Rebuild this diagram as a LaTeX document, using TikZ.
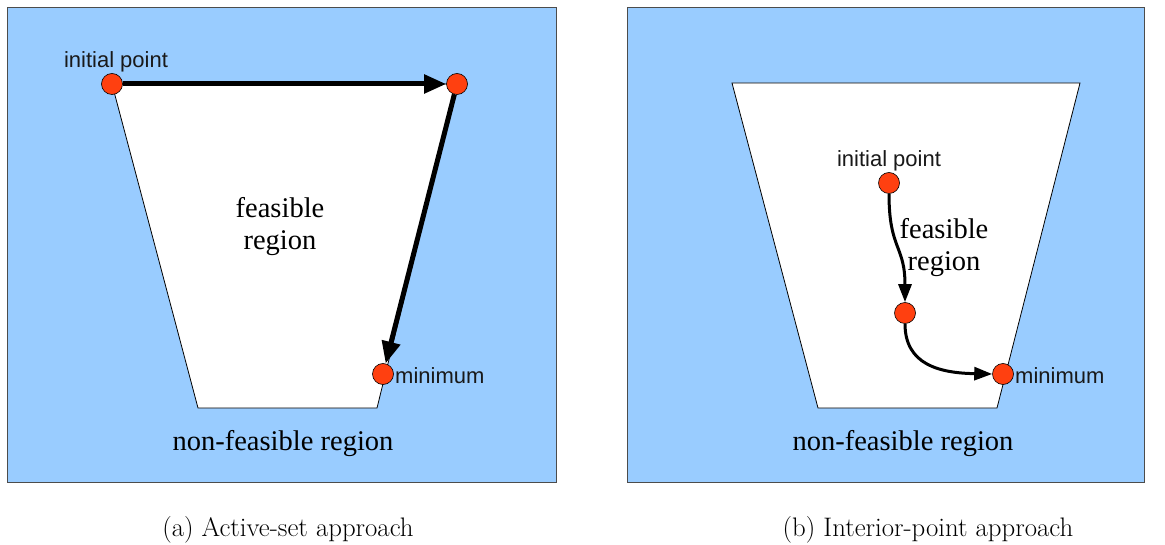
\documentclass[tikz,border=0pt]{standalone}
\usepackage{fontspec}
\setmainfont{Liberation Serif}
\newfontfamily\lsans{Liberation Sans}
\newfontfamily\lmr{Latin Modern Roman}
\usetikzlibrary{arrows.meta}
\definecolor{skyb}{RGB}{153,204,255}
\definecolor{dotred}{RGB}{255,64,16}
\begin{document}
\begin{tikzpicture}[x=1pt,y=-1pt,
  panel/.style={fill=skyb,draw=black!70,line width=0.8pt},
  feas/.style={fill=white,draw=black,line width=0.8pt},
  pt/.style={circle,fill=dotred,draw=black,line width=0.6pt,minimum size=21pt,inner sep=0pt},
  lab/.style={font=\lsans\fontsize{22}{26}\selectfont,text=black!90,inner sep=0pt},
  serlab/.style={font=\fontsize{28.5}{32}\selectfont,align=center,inner sep=0pt},
  captext/.style={font=\lmr\fontsize{26.8}{30}\selectfont,inner sep=0pt},
  bigarrow/.style={line width=5pt,-{Triangle[length=22pt,width=18pt]}},
  smallarrow/.style={line width=3pt,-{Triangle[length=18pt,width=13pt]}}]
\useasboundingbox (0,0) rectangle (1165,545);
% left panel
\draw[panel] (7,7) rectangle (556,482);
\draw[feas] (112,84) -- (457,84) -- (377,408) -- (198,408) -- cycle;
\node[pt] (a1) at (112,84) {};
\node[pt] (a2) at (457,84) {};
\node[pt] (a3) at (383,374) {};
\node[lab] (la1) at (116,62) {initial point};
\node[lab,anchor=west] (la3) at (395,376) {minimum};
\node[serlab] (fa) at (280,227) {feasible\\region};
\node[serlab] (na) at (283,444) {non-feasible region};
\draw[bigarrow] (a1) -- (a2);
\draw[bigarrow] (a2) -- (a3);
\node[captext] (ca) at (288,530) {(a) Active-set approach};
% right panel
\draw[panel] (627,7) rectangle (1144,482);
\draw[feas] (732,83) -- (1080,83) -- (997,408) -- (818,408) -- cycle;
\node[pt] (b1) at (889,183) {};
\node[pt] (b2) at (905,313) {};
\node[pt] (b3) at (1003,374) {};
\node[lab] (lb1) at (889,161) {initial point};
\node[lab,anchor=west] (lb3) at (1015,376) {minimum};
\node[serlab] (fb) at (944,248) {feasible\\region};
\node[serlab] (nb) at (903,444) {non-feasible region};
\draw[smallarrow] (b1.south) .. controls (889,250) and (905,245) .. (b2.north);
\draw[smallarrow] (b2.south) .. controls (905,365) and (940,373) .. (b3.west);
\node[captext] (cb) at (928,530) {(b) Interior-point approach};
\end{tikzpicture}
\end{document}
